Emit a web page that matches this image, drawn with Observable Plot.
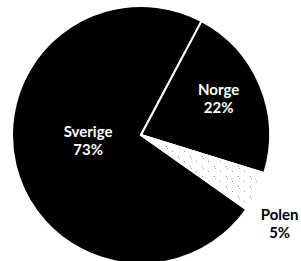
<!DOCTYPE html>
<html><head><meta charset="utf-8">
<script src="https://cdn.jsdelivr.net/npm/d3@7"></script>
<script src="https://cdn.jsdelivr.net/npm/@observablehq/plot@0.6"></script>
<style>html,body{margin:0;padding:0;background:#fff;overflow:hidden}</style>
</head><body><div id="chart"></div>
<script>
const countries = ["Sverige", "Norge", "Polen"];
const shares = [73, 22, 5];
const percentLabels = ["73%", "22%", "5%"];

const slices = countries.map((c, i) => ({country: c, share: shares[i], pct: percentLabels[i]}));
const firstSliceAngle = 125.2 * Math.PI / 180;
const arcs = d3.pie().sort(null).value(d => d.share)
  .startAngle(firstSliceAngle).endAngle(firstSliceAngle + 2 * Math.PI)(slices);

const sliceFill = {Sverige: "#000", Norge: "#000", Polen: "url(#dots5)"};
const labelPlacement = {
  Sverige: {radius: 0.416, turn: 8},
  Norge: {radius: 0.664, turn: -3.4},
  Polen: {radius: 1.27, turn: 6.3}
};
const labels = arcs.map(a => {
  const p = labelPlacement[a.data.country];
  const ang = (a.startAngle + a.endAngle) / 2 + p.turn * Math.PI / 180;
  return {text: a.data.country + "\n" + a.data.pct, x: p.radius * Math.sin(ang), y: p.radius * Math.cos(ang), inside: p.radius < 1};
});

function pieMark(index, scales) {
  const cx = scales.x(0), cy = scales.y(0), r = Math.abs(scales.x(1) - scales.x(0));
  const g = d3.create("svg:g");
  const pat = g.append("defs").append("pattern").attr("id", "dots5")
    .attr("patternUnits", "userSpaceOnUse").attr("width", 12).attr("height", 10);
  pat.append("rect").attr("width", 12).attr("height", 10).attr("fill", "#fff");
  pat.append("rect").attr("x", 1).attr("y", 1).attr("width", 1).attr("height", 1).attr("fill", "#888");
  pat.append("rect").attr("x", 2).attr("y", 3).attr("width", 1).attr("height", 1).attr("fill", "#aaa");
  pat.append("rect").attr("x", 7).attr("y", 6).attr("width", 1).attr("height", 1).attr("fill", "#999");
  const arc = d3.arc().innerRadius(0).outerRadius(r);
  g.append("g").attr("transform", `translate(${cx},${cy})`)
    .selectAll("path").data(arcs).join("path")
    .attr("d", arc)
    .attr("fill", d => sliceFill[d.data.country])
    .attr("stroke", "#fff").attr("stroke-width", 2);
  return g.node();
}

const chart = Plot.plot({
  width: 301,
  height: 261,
  margin: 0,
  x: {domain: [-1, 1], range: [12, 270], axis: null},
  y: {domain: [-1, 1], range: [264, 6], axis: null},
  style: {fontFamily: "Lato", background: "#fff"},
  marks: [
    pieMark,
    Plot.text(labels.filter(d => d.inside), {x: "x", y: "y", text: "text", fill: "#fff", fontSize: 15, fontWeight: "bold", fontFamily: "Lato", lineHeight: 1.2}),
    Plot.text(labels.filter(d => !d.inside), {x: "x", y: "y", text: "text", fill: "#000", fontSize: 15, fontWeight: "bold", fontFamily: "Lato", lineHeight: 1.2})
  ]
});
document.getElementById("chart").appendChild(chart);
</script>
</body></html>
